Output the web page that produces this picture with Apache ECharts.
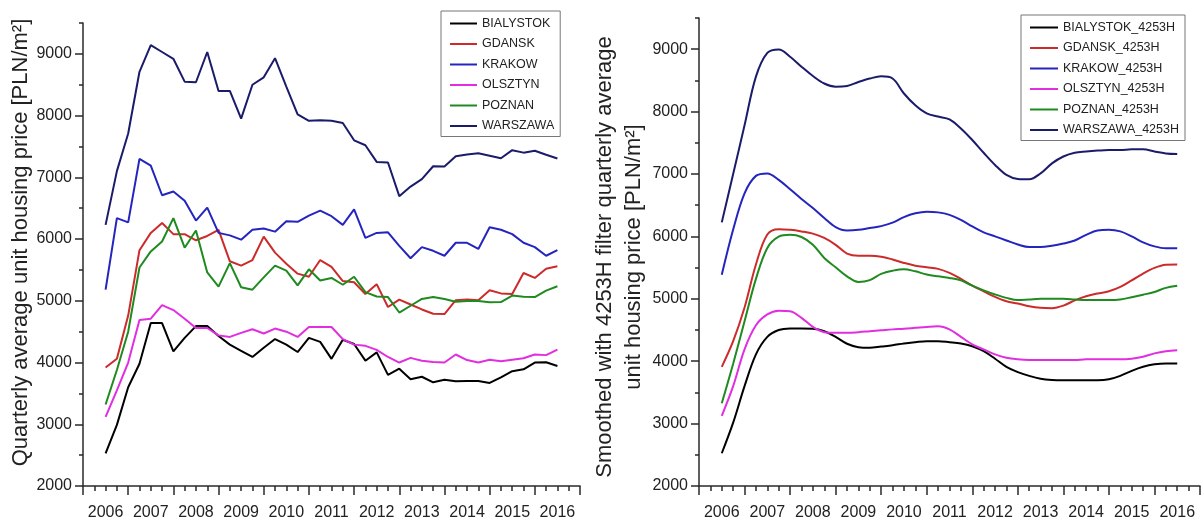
<!DOCTYPE html>
<html>
<head>
<meta charset="utf-8">
<script src="https://cdn.jsdelivr.net/npm/echarts@6/dist/echarts.min.js"></script>
<style>
  html, body { margin: 0; padding: 0; background: #ffffff; }
  #chart { width: 1201px; height: 521px; }
</style>
</head>
<body>
<div id="chart"></div>
<script>
// Quarterly observations, 2006 Q1 .. 2016 Q1 (41 quarters)
const firstYear = 2006;
const yearLabels = [2006, 2007, 2008, 2009, 2010, 2011, 2012, 2013, 2014, 2015, 2016];
const yTickLabels = [2000, 3000, 4000, 5000, 6000, 7000, 8000, 9000];

const cities = ['BIALYSTOK', 'GDANSK', 'KRAKOW', 'OLSZTYN', 'POZNAN', 'WARSZAWA'];
const smoothSuffix = '_4253H';

// Raw quarterly average unit price [PLN/m2]
const bialystok = [2530, 2990, 3600, 3980, 4640, 4640, 4180, 4400, 4590, 4590, 4430, 4290, 4190, 4090, 4240, 4380, 4290, 4170, 4400, 4335, 4060, 4370, 4300, 4030, 4165, 3800, 3900, 3730, 3770, 3680, 3720, 3695, 3700, 3700, 3670, 3760, 3860, 3890, 4000, 4005, 3945];
const gdansk = [3920, 4060, 4760, 5820, 6100, 6260, 6080, 6080, 5980, 6050, 6150, 5640, 5570, 5660, 6040, 5780, 5600, 5440, 5390, 5660, 5550, 5320, 5300, 5110, 5270, 4900, 5020, 4940, 4860, 4790, 4785, 5010, 5020, 5010, 5170, 5120, 5110, 5450, 5370, 5520, 5560];
const krakow = [5180, 6340, 6270, 7300, 7190, 6710, 6770, 6620, 6300, 6510, 6100, 6060, 5990, 6150, 6170, 6120, 6290, 6280, 6380, 6460, 6370, 6230, 6480, 6020, 6100, 6110, 5890, 5690, 5870, 5810, 5730, 5940, 5940, 5840, 6190, 6150, 6080, 5940, 5870, 5730, 5820];
const olsztyn = [3120, 3550, 4000, 4690, 4710, 4930, 4850, 4710, 4560, 4560, 4440, 4415, 4480, 4540, 4470, 4550, 4500, 4415, 4575, 4575, 4575, 4380, 4290, 4270, 4205, 4090, 4000, 4075, 4030, 4010, 4000, 4130, 4040, 4000, 4045, 4020, 4045, 4070, 4130, 4120, 4210];
const poznan = [3320, 3880, 4500, 5540, 5800, 5960, 6340, 5860, 6140, 5460, 5230, 5610, 5220, 5180, 5380, 5570, 5490, 5250, 5510, 5330, 5370, 5260, 5390, 5140, 5070, 5060, 4810, 4920, 5030, 5060, 5030, 4985, 4995, 4995, 4975, 4980, 5085, 5065, 5060, 5165, 5235];
const warszawa = [6230, 7100, 7710, 8710, 9140, 9030, 8920, 8550, 8540, 9030, 8400, 8400, 7950, 8500, 8620, 8930, 8470, 8020, 7915, 7925, 7915, 7880, 7600, 7520, 7250, 7240, 6695, 6850, 6970, 7180, 7175, 7340, 7370, 7390, 7350, 7310, 7440, 7400, 7430, 7365, 7305];

// Same series after 4253H smoothing
const bialystokSmooth = [2525, 3015, 3600, 4110, 4390, 4500, 4525, 4525, 4520, 4480, 4390, 4280, 4225, 4215, 4235, 4255, 4285, 4305, 4320, 4320, 4305, 4285, 4240, 4160, 4040, 3910, 3825, 3765, 3720, 3700, 3695, 3695, 3695, 3695, 3710, 3765, 3845, 3910, 3950, 3965, 3965];
const gdanskSmooth = [3910, 4320, 4860, 5550, 6030, 6115, 6105, 6080, 6045, 5975, 5865, 5725, 5690, 5690, 5675, 5630, 5575, 5530, 5505, 5480, 5415, 5320, 5210, 5120, 5030, 4960, 4925, 4880, 4855, 4850, 4890, 4975, 5040, 5085, 5120, 5190, 5295, 5405, 5495, 5545, 5550];
const krakowSmooth = [5385, 6110, 6690, 6970, 7010, 6905, 6755, 6600, 6455, 6295, 6150, 6095, 6105, 6135, 6165, 6220, 6310, 6370, 6395, 6385, 6345, 6265, 6160, 6065, 6000, 5935, 5870, 5830, 5830, 5850, 5885, 5935, 6025, 6095, 6105, 6080, 6000, 5905, 5840, 5810, 5810];
const olsztynSmooth = [3125, 3600, 4190, 4575, 4750, 4810, 4800, 4695, 4550, 4465, 4455, 4455, 4465, 4480, 4495, 4510, 4520, 4535, 4550, 4560, 4510, 4390, 4270, 4190, 4110, 4055, 4030, 4020, 4020, 4020, 4020, 4020, 4030, 4030, 4030, 4030, 4040, 4070, 4125, 4160, 4175];
const poznanSmooth = [3325, 3960, 4640, 5320, 5815, 5995, 6025, 5990, 5865, 5655, 5505, 5360, 5270, 5300, 5400, 5450, 5475, 5440, 5390, 5360, 5335, 5295, 5210, 5135, 5070, 5015, 4980, 4990, 5000, 5000, 5000, 4990, 4980, 4980, 4980, 4990, 5025, 5065, 5110, 5175, 5210];
const warszawaSmooth = [6225, 7000, 7780, 8560, 8940, 8995, 8880, 8720, 8570, 8450, 8400, 8410, 8475, 8530, 8565, 8530, 8290, 8100, 7970, 7920, 7875, 7730, 7545, 7340, 7145, 6985, 6920, 6915, 7010, 7170, 7280, 7340, 7360, 7375, 7385, 7385, 7395, 7395, 7360, 7330, 7320];

const rawSeries = [bialystok, gdansk, krakow, olsztyn, poznan, warszawa];
const smoothSeries = [bialystokSmooth, gdanskSmooth, krakowSmooth, olsztynSmooth, poznanSmooth, warszawaSmooth];
const cityColors = ['#000000', '#cc2b2b', '#2424bf', '#e02ee0', '#1f8a1f', '#1b1b6b'];

const FONT = '"Liberation Sans", Arial, Helvetica, sans-serif';
const INK = '#222222';
const AXIS = { color: '#2a2a2a', width: 1.5 };

// Year bins: each labelled year occupies one unit centred on the year value
const xMin = yearLabels[0] - 0.5;
const xMax = yearLabels[yearLabels.length - 1] + 0.5;
const yearBounds = [];
for (let b = xMin; b <= xMax + 1e-9; b += 1) yearBounds.push(b);
const quarterMarks = [];
for (let b = xMin; b < xMax - 1e-9; b += 1) {
  quarterMarks.push(b + 0.25, b + 0.5, b + 0.75);
}
const yMin = 2000, yMax = 9500;
const yHalfMarks = [];
for (let v = yMin + 500; v <= yMax; v += 1000) yHalfMarks.push(v);

const toPoints = values => values.map((v, i) => [firstYear + i / 4, v]);

function xAxesFor(grid) {
  return [
    {
      gridIndex: grid, type: 'value', position: 'bottom', min: xMin, max: xMax,
      axisLine: { show: true, onZero: false, lineStyle: AXIS },
      axisTick: { show: true, length: 9, customValues: yearBounds, lineStyle: AXIS },
      axisLabel: {
        customValues: yearLabels, margin: 19, fontSize: 16, color: INK, fontFamily: FONT,
        formatter: v => String(Math.round(v))
      },
      splitLine: { show: false }
    },
    {
      gridIndex: grid, type: 'value', position: 'bottom', min: xMin, max: xMax,
      axisLine: { show: false, onZero: false },
      axisTick: { show: true, length: 5, customValues: quarterMarks, lineStyle: AXIS },
      axisLabel: { show: false },
      splitLine: { show: false }
    }
  ];
}

function yAxesFor(grid, title, gap, lineHeight, padding) {
  return [
    {
      gridIndex: grid, type: 'value', position: 'left', min: yMin, max: yMax,
      axisLine: { show: true, onZero: false, lineStyle: AXIS },
      axisTick: { show: true, length: 8, customValues: yTickLabels, lineStyle: AXIS },
      axisLabel: {
        customValues: yTickLabels, margin: 11, fontSize: 16, color: INK, fontFamily: FONT,
        formatter: v => String(v)
      },
      splitLine: { show: false },
      name: title, nameLocation: 'middle', nameGap: gap,
      nameTextStyle: { fontSize: 22, color: INK, fontFamily: FONT, lineHeight, align: 'center', padding }
    },
    {
      gridIndex: grid, type: 'value', position: 'left', min: yMin, max: yMax,
      axisLine: { show: false, onZero: false },
      axisTick: { show: true, length: 4, customValues: yHalfMarks, lineStyle: AXIS },
      axisLabel: { show: false },
      splitLine: { show: false }
    }
  ];
}

function lineSeries(names, data, axisIndex, smooth) {
  return names.map((name, k) => ({
    type: 'line', name, xAxisIndex: axisIndex, yAxisIndex: axisIndex,
    data: toPoints(data[k]), symbol: 'none', smooth,
    color: cityColors[k],
    lineStyle: { width: 2, color: cityColors[k] },
    emphasis: { disabled: true }
  }));
}

function legendFor(names, left, top, iconWidth) {
  return {
    orient: 'vertical', left, top, data: names, selectedMode: false,
    itemWidth: iconWidth, itemHeight: 12, itemGap: 7.5,
    padding: [6, 6, 4, 8],
    borderColor: '#777777', borderWidth: 1, backgroundColor: '#ffffff',
    textStyle: { fontSize: 12.5, color: INK, fontFamily: FONT },
    itemStyle: { opacity: 0 }
  };
}

const smoothNames = cities.map(c => c + smoothSuffix);

const option = {
  animation: false,
  backgroundColor: '#ffffff',
  grid: [
    { left: 83, top: 23, width: 497, height: 465 },
    { left: 699, top: 18, width: 501, height: 469 }
  ],
  xAxis: [...xAxesFor(0), ...xAxesFor(1)],
  yAxis: [
    ...yAxesFor(0, 'Quarterly average unit housing price [PLN/m²]', 49, 24, [0, 0, 0, 24]),
    ...yAxesFor(1, 'Smoothed with 4253H filter quarterly average\nunit housing price [PLN/m²]', 48, 29, [0, 10, 0, 0])
  ],
  legend: [
    legendFor(cities, 441, 11, 27),
    legendFor(smoothNames, 1021, 15, 28)
  ],
  series: [
    ...lineSeries(cities, rawSeries, 0, false),
    ...lineSeries(smoothNames, smoothSeries, 2, 0.35)
  ]
};

const chart = echarts.init(document.getElementById('chart'), null, { renderer: 'canvas' });
chart.setOption(option);
</script>
</body>
</html>
